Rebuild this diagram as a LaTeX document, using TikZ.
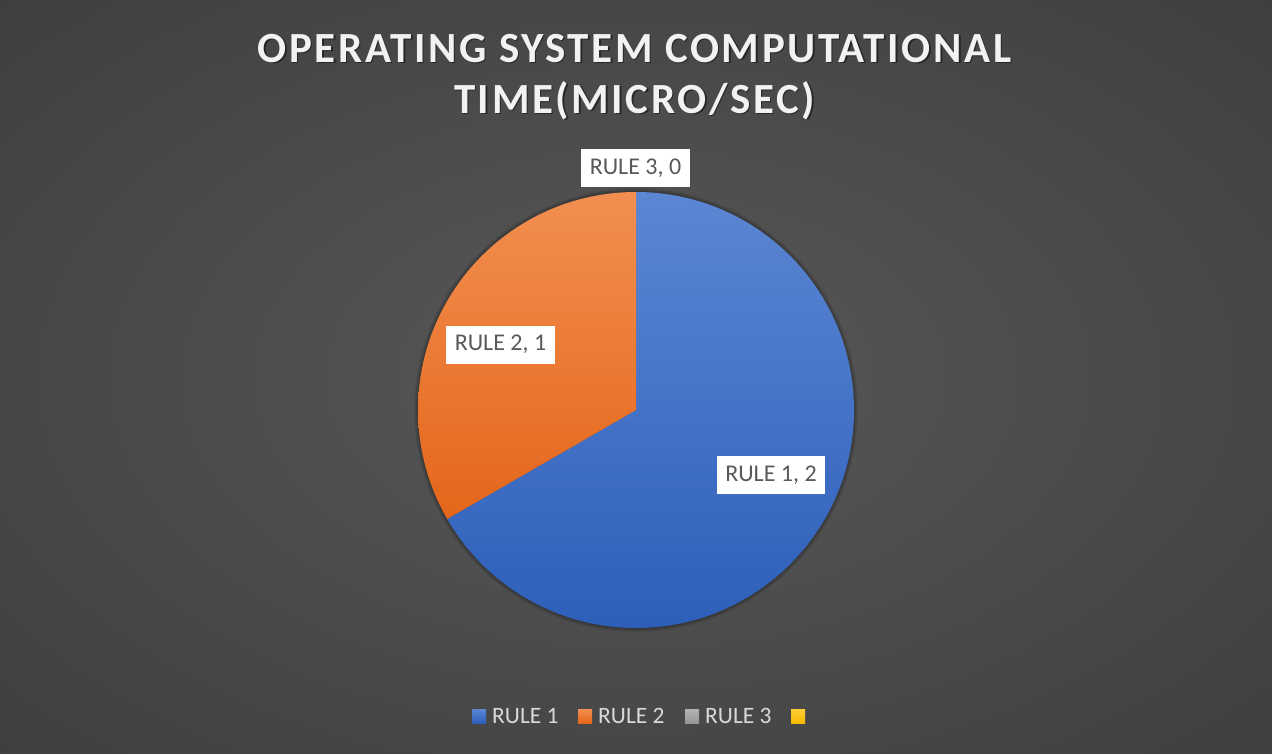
\documentclass[tikz,border=0pt]{standalone}
\usepackage{fontspec}
\setmainfont{Carlito}
\newfontfamily\titlefont[LetterSpace=6]{Carlito}
\definecolor{bgin}{HTML}{585858}
\definecolor{bgout}{HTML}{262626}
\definecolor{blueA}{HTML}{5B86D3}
\definecolor{blueB}{HTML}{2D5FBA}
\definecolor{orangeA}{HTML}{F28F50}
\definecolor{orangeB}{HTML}{E4661A}
\definecolor{grayA}{HTML}{B4B4B4}
\definecolor{grayB}{HTML}{969696}
\definecolor{yellowA}{HTML}{FFCD38}
\definecolor{yellowB}{HTML}{F5BA00}
\definecolor{labeltext}{HTML}{595959}
\definecolor{legendtext}{HTML}{D9D9D9}
\pgfdeclareradialshading{bgglow}{\pgfpoint{0bp}{0bp}}{color(0bp)=(bgin); color(50bp)=(bgout)}
\tikzset{
  datalabel/.style={fill=white, text=labeltext, font=\fontsize{24}{26}\selectfont,
    minimum height=38pt, inner xsep=8.5pt, inner ysep=0pt},
  legendkey/.style={minimum size=14pt, inner sep=0pt},
  legendlabel/.style={text=legendtext, font=\fontsize{23.5}{26}\selectfont, inner sep=0pt, anchor=west},
  titletext/.style={font=\titlefont\bfseries\fontsize{43}{51}\selectfont, align=center}
}
\begin{document}
\begin{tikzpicture}[x=1pt,y=-1pt]
  % background
  \useasboundingbox (0,0) rectangle (1272,754);
  \begin{scope}
    \clip (0,0) rectangle (1272,754);
    \shade[shading=bgglow] (636,377) ellipse (900 and 534);
  \end{scope}

  % title with soft shadow
  \node[titletext, text=black, opacity=0.45] at (636,78.5) {OPERATING SYSTEM COMPUTATIONAL\\TIME(MICRO/SEC)};
  \node[titletext, text=white!95!black] (title) at (634.5,77) {OPERATING SYSTEM COMPUTATIONAL\\TIME(MICRO/SEC)};

  % pie: centre (636,410), radius 218, with a soft shadow
  \coordinate (c) at (636,410);
  \foreach \r in {219,220,221,222} {
    \fill[black, opacity=0.07] (c) circle (\r);
  }
  \shade[top color=blueA, bottom color=blueB]
    (c) -- ++(0,-218) arc[start angle=-90, end angle=150, radius=218] -- cycle;
  \shade[top color=orangeA, bottom color=orangeB]
    (c) -- ++(0,-218) arc[start angle=-90, end angle=-210, radius=218] -- cycle;

  % data labels
  \node[datalabel] (l3) at (635.5,168.5) {RULE 3, 0};
  \node[datalabel] (l2) at (500.5,344.5) {RULE 2, 1};
  \node[datalabel] (l1) at (771,475) {RULE 1, 2};

  % legend
  \node[legendkey, top color=blueA, bottom color=blueB] (k1) at (479,716) {};
  \node[legendlabel] (t1) at (492,716) {RULE 1};
  \node[legendkey, top color=orangeA, bottom color=orangeB] (k2) at (585,716) {};
  \node[legendlabel] (t2) at (598,716) {RULE 2};
  \node[legendkey, top color=grayA, bottom color=grayB] (k3) at (692,716) {};
  \node[legendlabel] (t3) at (705,716) {RULE 3};
  \node[legendkey, top color=yellowA, bottom color=yellowB] (k4) at (798,716) {};
\end{tikzpicture}
\end{document}
